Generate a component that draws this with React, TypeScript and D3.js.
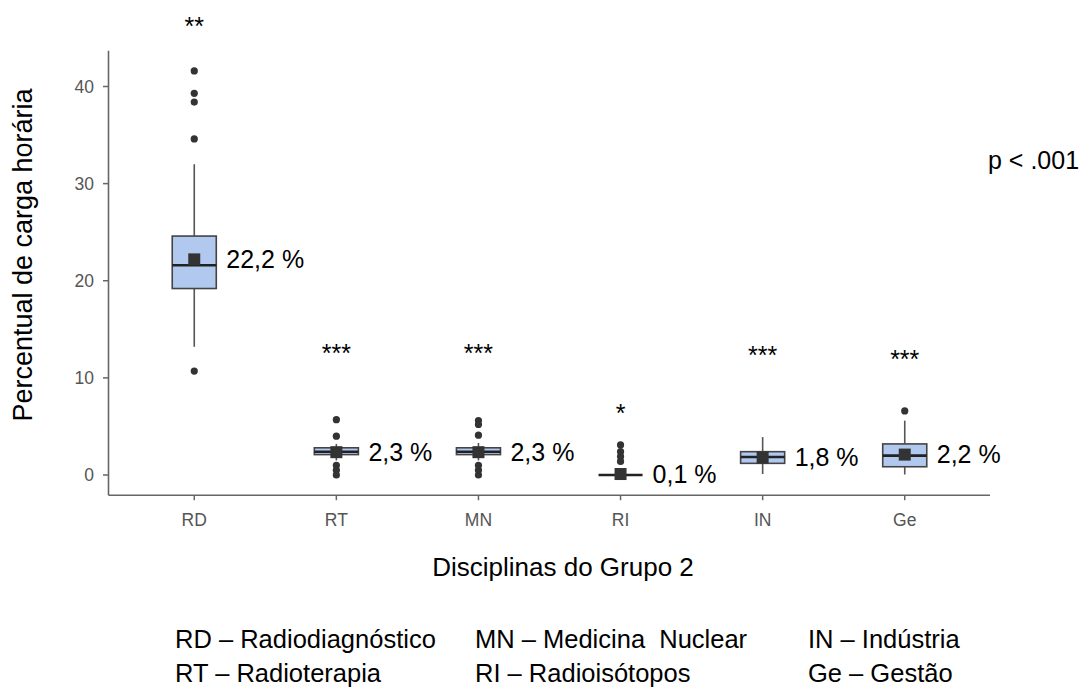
import React from 'react';
import * as d3 from 'd3';

// categories and box statistics
const categories = ['RD', 'RT', 'MN', 'RI', 'IN', 'Ge'];
const q1 = [19.2, 2.1, 2.1, 0, 1.2, 0.85];
const medians = [21.6, 2.4, 2.4, 0, 1.85, 2.0];
const q3 = [24.6, 2.8, 2.8, 0, 2.4, 3.2];
const whiskerLow = [13.2, 1.5, 1.5, 0, 0.1, 0.05];
const whiskerHigh = [32.0, 3.2, 3.3, 0, 3.9, 5.6];
const means = [22.2, 2.35, 2.35, 0.1, 1.8, 2.1];
const outliers = [
    [41.6, 39.3, 38.4, 34.6, 10.7],
    [5.7, 4.0, 1.0, 0.5, 0],
    [5.6, 5.2, 4.1, 1.0, 0.5, 0],
    [3.1, 2.4, 1.9, 1.4],
    [],
    [6.6]
];
const meanLabels = ['22,2 %', '2,3 %', '2,3 %', '0,1 %', '1,8 %', '2,2 %'];
const stars = ['**', '***', '***', '*', '***', '***'];
const starValues = [45.3, 11.6, 11.6, 5.5, 11.4, 11.0];
const yTicks = [0, 10, 20, 30, 40];
const legendRows = [
    ['RD – Radiodiagnóstico', 'MN – Medicina  Nuclear', 'IN – Indústria'],
    ['RT – Radioterapia', 'RI – Radioisótopos', 'Ge – Gestão']
];

const font = '"Liberation Sans", Arial, sans-serif';

export default function App() {
    const width = 1092;
    const height = 689;

    const x = d3.scalePoint<string>().domain(categories).range([109, 990]).padding(0.6);
    const y = d3.scaleLinear().domain([0, 40]).range([475, 86.5]);
    const dataMax = d3.max(outliers.flat().concat(whiskerHigh)) as number;
    const pad = dataMax * 0.05;
    const yTop = y(dataMax + pad);
    const yBottom = y(-pad);
    const boxW = x.step() * 0.31;

    return (
        <svg width={width} height={height} style={{ position: 'absolute', left: 0, top: 0, background: '#fff' }} fontFamily={font}>
            {/* axes */}
            <line x1={108.5} x2={108.5} y1={yTop} y2={yBottom} stroke="#666" strokeWidth={1.6} />
            <line x1={108.5} x2={990} y1={yBottom} y2={yBottom} stroke="#666" strokeWidth={1.6} />
            {yTicks.map(t => (
                <g key={t}>
                    <line x1={103} x2={108} y1={y(t)} y2={y(t)} stroke="#666" strokeWidth={1.5} />
                    <text x={94} y={y(t)} dy="0.35em" textAnchor="end" fontSize={17.5} fill="#555">{t}</text>
                </g>
            ))}
            {categories.map(c => (
                <g key={c}>
                    <line x1={x(c)} x2={x(c)} y1={yBottom} y2={yBottom + 5} stroke="#666" strokeWidth={1.5} />
                    <text x={x(c)} y={yBottom + 25} dy="0.35em" textAnchor="middle" fontSize={17.5} fill="#555">{c}</text>
                </g>
            ))}

            {/* boxes */}
            {categories.map((c, i) => {
                const cx = x(c) as number;
                return (
                    <g key={c}>
                        <line x1={cx} x2={cx} y1={y(whiskerHigh[i])} y2={y(q3[i])} stroke="#555" strokeWidth={1.6} />
                        <line x1={cx} x2={cx} y1={y(q1[i])} y2={y(whiskerLow[i])} stroke="#555" strokeWidth={1.6} />
                        <rect x={cx - boxW / 2} y={y(q3[i])} width={boxW} height={Math.max(0, y(q1[i]) - y(q3[i]))}
                            fill="#b1c9ee" stroke="#444" strokeWidth={1.6} />
                        <line x1={cx - boxW / 2} x2={cx + boxW / 2} y1={y(medians[i])} y2={y(medians[i])} stroke="#222" strokeWidth={2.6} />
                        {outliers[i].map((v, j) => (
                            <circle key={j} cx={cx} cy={y(v)} r={3.6} fill="#333" />
                        ))}
                        <rect x={cx - 6} y={y(means[i]) - 6} width={12} height={12} fill="#333" />
                        <text x={cx + boxW / 2 + 10} y={y(means[i])} dy="0.35em" fontSize={25} fill="#000">{meanLabels[i]}</text>
                        <text x={cx} y={y(starValues[i])} textAnchor="middle" fontSize={25} fill="#000">{stars[i]}</text>
                    </g>
                );
            })}

            {/* titles */}
            <text x={563} y={567} dy="0.35em" textAnchor="middle" fontSize={26} fill="#000">Disciplinas do Grupo 2</text>
            <text transform={`translate(23, 255) rotate(-90)`} dy="0.35em" textAnchor="middle" fontSize={27} fill="#000">Percentual de carga horária</text>
            <text x={988} y={160} dy="0.35em" fontSize={25} fill="#000">p &lt; .001</text>

            {/* legend */}
            {legendRows.map((row, r) => row.map((t, k) => (
                <text key={t} x={[175, 475, 808][k]} y={639 + r * 34} dy="0.35em" fontSize={25.5} fill="#000" style={{ whiteSpace: 'pre' }}>{t}</text>
            )))}
        </svg>
    );
}
